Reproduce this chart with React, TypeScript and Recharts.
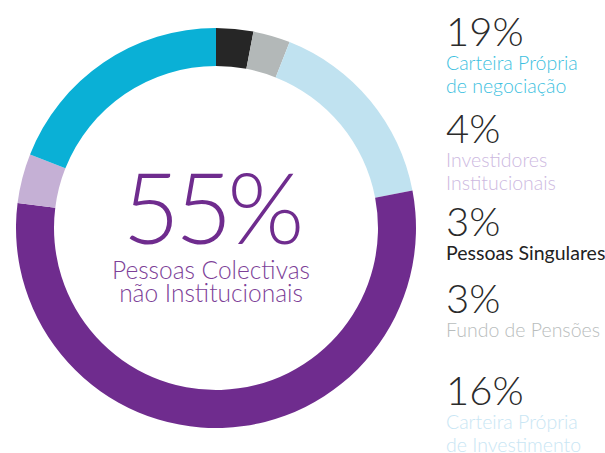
import { Cell, Pie, PieChart } from "recharts";

// slices clockwise from 12 o'clock
const sliceNames = [
  "Pessoas Singulares",
  "Fundo de Pensões",
  "Carteira Própria de Investimento",
  "Pessoas Colectivas não Institucionais",
  "Investidores Institucionais",
  "Carteira Própria de negociação",
];
const sliceValues = [3, 3, 16, 55, 4, 19];
const sliceColors = ["#262626", "#b3b8b8", "#c0e2f0", "#6f2c8e", "#c5b0d5", "#0ab0d6"];

// right-hand legend, top to bottom
const legendOrder = [5, 4, 0, 1, 2];
const legendLines = [
  ["Carteira Própria", "de negociação"],
  ["Investidores", "Institucionais"],
  ["Pessoas Singulares"],
  ["Fundo de Pensões"],
  ["Carteira Própria", "de Investimento"],
];
const legendTextColors = ["#3dbfe0", "#cdb9df", "#222222", "#b9bdbd", "#c9e6f4"];
const legendTops = [11, 108, 201, 278, 370];

const FONT = "Lato, 'Open Sans', sans-serif";

export default function App() {
  const data = sliceNames.map((name, i) => ({ name, value: sliceValues[i] }));
  const main = 3;

  return (
    <div style={{ position: "absolute", left: 0, top: 0, width: 605, height: 453, background: "#fff", overflow: "hidden", fontFamily: FONT }}>
      <PieChart width={605} height={453} margin={{ top: 0, right: 0, bottom: 0, left: 0 }}>
        <Pie
          data={data}
          dataKey="value"
          cx={216}
          cy={228}
          innerRadius={162}
          outerRadius={200}
          startAngle={90}
          endAngle={-270}
          stroke="none"
          isAnimationActive={false}
        >
          {data.map((d, i) => (
            <Cell key={d.name} fill={sliceColors[i]} />
          ))}
        </Pie>
      </PieChart>

      <div style={{ position: "absolute", left: 71, width: 280, top: 156, textAlign: "center", color: "#6f2c8e" }}>
        <div style={{ fontSize: 99, fontWeight: 300, lineHeight: "99px", letterSpacing: -5 }}>{sliceValues[main]}%</div>
        <div style={{ fontSize: 24.5, fontWeight: 300, lineHeight: "23px", color: "#7d3f98", marginTop: 3 }}>
          Pessoas Colectivas
          <br />
          não Institucionais
        </div>
      </div>

      {legendOrder.map((idx, k) => (
        <div key={sliceNames[idx]} style={{ position: "absolute", left: 446, top: legendTops[k] }}>
          <div style={{ fontSize: 40, fontWeight: 300, lineHeight: "40px", color: "#2b2b2b" }}>{sliceValues[idx]}%</div>
          <div style={{ marginTop: 0, fontSize: 19.5, fontWeight: k === 2 ? 400 : 300, lineHeight: "23px", color: legendTextColors[k], whiteSpace: "nowrap" }}>
            {legendLines[k].map((line) => (
              <div key={line}>{line}</div>
            ))}
          </div>
        </div>
      ))}
    </div>
  );
}
